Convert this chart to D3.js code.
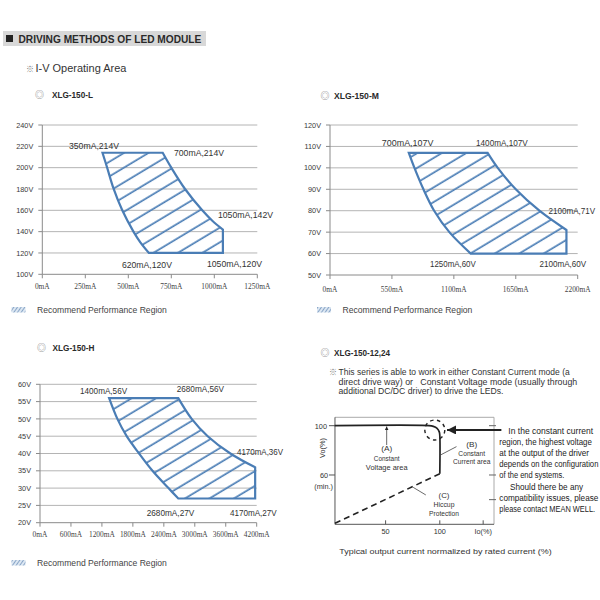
<!DOCTYPE html>
<html><head><meta charset="utf-8">
<script src="https://cdn.jsdelivr.net/npm/d3@7"></script>
<style>body{margin:0;background:#fff}svg{display:block}</style>
</head><body><svg id="c" width="600" height="600"></svg>
<script>
// ---------------- data ----------------
// XLG-150-L
const L_xTicks = [0, 250, 500, 750, 1000, 1250];
const L_yTicks = [100, 120, 140, 160, 180, 200, 220, 240];
const L_rightI = [700, 750, 830, 930, 990, 1050];
const L_rightV = [214, 200, 180, 160, 150, 142];
const L_leftI  = [620, 570, 530, 465, 415, 377, 350];
const L_leftV  = [120, 130, 140, 160, 180, 200, 214];
const L_cornerI = 1050, L_cornerV = 120;
const L_labels = ["350mA,214V", "700mA,214V", "1050mA,142V", "620mA,120V", "1050mA,120V"];
const L_labelI = [350, 700, 1050, 620, 1050];
const L_labelV = [214, 214, 142, 120, 120];

// XLG-150-M
const M_xTicks = [0, 550, 1100, 1650, 2200];
const M_yTicks = [50, 60, 70, 80, 90, 100, 110, 120];
const M_rightI = [1400, 1490, 1650, 1860, 2100];
const M_rightV = [107, 100, 90, 80, 71];
const M_leftI  = [1250, 1060, 925, 830, 750, 700];
const M_leftV  = [60, 70, 80, 90, 100, 107];
const M_cornerI = 2100, M_cornerV = 60;
const M_labels = ["700mA,107V", "1400mA,107V", "2100mA,71V", "1250mA,60V", "2100mA,60V"];
const M_labelI = [700, 1400, 2100, 1250, 2100];
const M_labelV = [107, 107, 71, 60, 60];

// XLG-150-H
const H_xTicks = [0, 600, 1200, 1800, 2400, 3000, 3600, 4200];
const H_yTicks = [20, 25, 30, 35, 40, 45, 50, 55, 60];
const H_rightI = [2680, 2940, 3250, 3690, 4170];
const H_rightV = [56, 50, 45, 40, 36];
const H_leftI  = [2680, 2490, 2180, 1920, 1680, 1500, 1340];
const H_leftV  = [27, 30, 35, 40, 45, 50, 56];
const H_cornerI = 4170, H_cornerV = 27;
const H_labels = ["1400mA,56V", "2680mA,56V", "4170mA,36V", "2680mA,27V", "4170mA,27V"];
const H_labelI = [1400, 2680, 4170, 2680, 4170];
const H_labelV = [56, 56, 36, 27, 27];

// XLG-150-12,24 schematic (Io %, Vo %)
const D_xTicks = [50, 100, 140];
const D_xTickLabels = ["50", "100", "Io(%)"];
const D_yTicks = [100, 60];
const D_rightTicks = [100, 60, 40];
const D_cvIo = [3, 90, 94, 97.5, 99.5, 100, 100];
const D_cvVo = [100, 100, 99.4, 97.8, 95, 92, 61];
const D_hiccupIo = [3.3, 100];
const D_hiccupVo = [20.8, 61];

// ---------------- layout helpers ----------------
const SANS = "'Liberation Sans', Arial, sans-serif";
const NARROW = "'Liberation Sans Narrow', 'Liberation Sans', Arial, sans-serif";
const SERIF = "'Liberation Serif', 'Times New Roman', serif";
const SYM = "'Noto Sans CJK SC', 'DejaVu Sans', sans-serif";
const BLUE = "#4a7db5";

const svg = d3.select("#c");
svg.append("rect").attr("width", 600).attr("height", 600).attr("fill", "#fff");

const defs = svg.append("defs");
const pat = defs.append("pattern").attr("id", "hatch").attr("patternUnits", "userSpaceOnUse")
  .attr("width", 30).attr("height", 12.6).attr("patternTransform", "rotate(-31)");
pat.append("line").attr("x1", 0).attr("x2", 30).attr("y1", 6).attr("y2", 6)
  .attr("stroke", BLUE).attr("stroke-width", 1.7);
const pat2 = defs.append("pattern").attr("id", "hatchS").attr("patternUnits", "userSpaceOnUse")
  .attr("width", 6).attr("height", 3).attr("patternTransform", "rotate(-55)");
pat2.append("rect").attr("width", 6).attr("height", 3).attr("fill", "#dce7f2");
pat2.append("line").attr("x1", 0).attr("x2", 6).attr("y1", 1.5).attr("y2", 1.5)
  .attr("stroke", "#8aa6c8").attr("stroke-width", 1);
function marker(id, w, h) {
  defs.append("marker").attr("id", id).attr("viewBox", `0 0 ${w} ${h}`)
    .attr("refX", w).attr("refY", h / 2).attr("markerWidth", w).attr("markerHeight", h)
    .attr("markerUnits", "userSpaceOnUse").attr("orient", "auto")
    .append("path").attr("d", `M0,0L${w},${h / 2}L0,${h}Z`).attr("fill", "#222");
}
marker("arrS", 4, 4);
marker("arrB", 9, 9);

// text helper: when a target width is given, the text is scaled horizontally
// (measured natural width -> target width) so its real box matches the reference.
function txt(x, y, s, o = {}) {
  const t = svg.append("text").attr("x", x).attr("y", y).text(s)
    .attr("font-family", o.family || SANS).attr("font-size", o.size || 9)
    .attr("fill", o.fill || "#333").attr("text-anchor", o.anchor || "start")
    .style("white-space", "pre");
  if (o.weight) t.attr("font-weight", o.weight);
  if (o.len) {
    const nat = t.node().getComputedTextLength();
    const k = nat > 0 ? o.len / nat : 1;
    t.attr("x", 0).attr("y", 0).attr("transform", `translate(${x},${y}) scale(${k},1)`);
  }
  if (o.rotate) t.attr("transform", `rotate(${o.rotate},${x},${y})`);
  return t;
}

// ---------------- header ----------------
svg.append("rect").attr("x", 3).attr("y", 31).attr("width", 203).attr("height", 15).attr("fill", "#d8d8d8");
svg.append("rect").attr("x", 6).attr("y", 35).attr("width", 7).attr("height", 7).attr("fill", "#222");
txt(18.5, 43, "DRIVING METHODS OF LED MODULE", { family: NARROW, weight: "bold", size: 11.5, len: 183, fill: "#2a2a2a" });
txt(30, 71.5, "※", { family: SYM, size: 8, fill: "#777", anchor: "middle" });
txt(35.5, 71.5, "I-V Operating Area", { size: 10.8, len: 91 });

function heading(xs, xt, y, s, len) {
  txt(xs, y, "◎", { family: SYM, size: 9, fill: "#777", anchor: "middle" });
  txt(xt, y, s, { weight: "bold", size: 8.6, len: len, fill: "#2a2a2a" });
}
heading(39.5, 52, 97.5, "XLG-150-L", 41);
heading(325, 334, 98.5, "XLG-150-M", 45);
heading(41.5, 52.5, 350.5, "XLG-150-H", 42);
heading(325, 334, 355.5, "XLG-150-12,24", 56);

function legend(x, y) {
  svg.append("rect").attr("x", x).attr("y", y - 3).attr("width", 14).attr("height", 5.5).attr("fill", "url(#hatchS)");
  txt(x + 25.5, y + 3.3, "Recommend Performance Region", { size: 9.2, len: 130, fill: "#444" });
}
legend(11.5, 310);
legend(317, 310);
legend(11.5, 563);

// ---------------- I-V charts ----------------
function ivChart(c) {
  const x = d3.scaleLinear().domain(c.xDom).range([c.x0, c.x1]);
  const y = d3.scaleLinear().domain(c.yDom).range([c.y0, c.y1]);
  const g = svg.append("g");
  g.selectAll(".grid").data(c.yTicks.slice(1)).join("line")
    .attr("x1", x(c.xDom[0])).attr("x2", x(c.xDom[1]))
    .attr("y1", d => y(d)).attr("y2", d => y(d))
    .attr("stroke", "#b4b4b4").attr("stroke-width", 1);
  g.append("line").attr("x1", x(c.xDom[0])).attr("x2", x(c.xDom[0]))
    .attr("y1", y(c.yDom[1])).attr("y2", y(c.yDom[0])).attr("stroke", "#8a8a8a");
  g.append("line").attr("x1", x(c.xDom[0])).attr("x2", x(c.xDom[1]))
    .attr("y1", y(c.yDom[0])).attr("y2", y(c.yDom[0])).attr("stroke", "#8a8a8a");
  g.selectAll(".yt").data(c.yTicks).join("line")
    .attr("x1", x(c.xDom[0]) - 4).attr("x2", x(c.xDom[0]))
    .attr("y1", d => y(d)).attr("y2", d => y(d)).attr("stroke", "#8a8a8a");
  g.selectAll(".xt").data(c.xTicks).join("line")
    .attr("x1", d => x(d)).attr("x2", d => x(d))
    .attr("y1", y(c.yDom[0])).attr("y2", y(c.yDom[0]) + 4).attr("stroke", "#8a8a8a");
  c.yTicks.forEach(v => txt(x(c.xDom[0]) - 9, y(v) + 2.6, v + "V", { size: 7.3, anchor: "end", fill: "#3a3a3a" }));
  c.xTicks.forEach(v => txt(x(v), c.xLabY, v + "mA", { family: SERIF, size: 7.4, anchor: "middle", fill: "#444" }));
  const lg = d3.line().x(d => x(d[0])).y(d => y(d[1])).curve(d3.curveCatmullRom.alpha(0.5));
  const right = c.rightI.map((v, i) => [v, c.rightV[i]]);
  const left = c.leftI.map((v, i) => [v, c.leftV[i]]);
  const d = lg(right) + "L" + x(c.cornerI) + "," + y(c.cornerV) + lg(left).replace(/^M/, "L") + "Z";
  g.append("path").attr("d", d).attr("fill", "url(#hatch)");
  g.append("path").attr("d", d).attr("fill", "none").attr("stroke", BLUE)
    .attr("stroke-width", 2.2).attr("stroke-linejoin", "miter");
  c.labels.forEach((s, i) => {
    txt(x(c.labelI[i]) + c.off[i][0], y(c.labelV[i]) + c.off[i][1], s,
      { size: 8.4, len: c.lens[i], fill: "#333" });
  });
}

ivChart({
  xDom: [0, 1250], yDom: [100, 240], x0: 42.3, x1: 257.3, y0: 274.3, y1: 125, xLabY: 288.5,
  xTicks: L_xTicks, yTicks: L_yTicks, rightI: L_rightI, rightV: L_rightV, leftI: L_leftI, leftV: L_leftV,
  cornerI: L_cornerI, cornerV: L_cornerV, labels: L_labels, labelI: L_labelI, labelV: L_labelV,
  off: [[-33.5, -4], [11.3, 3], [-5, -11.6], [-27, 15], [-16, 14.5]],
  lens: [50, 50, 55, 50, 55]
});
ivChart({
  xDom: [0, 2200], yDom: [50, 120], x0: 330, x1: 577.7, y0: 275, y1: 125, xLabY: 291.5,
  xTicks: M_xTicks, yTicks: M_yTicks, rightI: M_rightI, rightV: M_rightV, leftI: M_leftI, leftV: M_leftV,
  cornerI: M_cornerI, cornerV: M_cornerV, labels: M_labels, labelI: M_labelI, labelV: M_labelV,
  off: [[-27, -6.6], [-11.6, -7], [-18, -16], [-40.7, 13.4], [-27, 13.4]],
  lens: [51.6, 51.7, 46.7, 45.7, 46.7]
});
ivChart({
  xDom: [0, 4200], yDom: [20, 60], x0: 40, x1: 256.7, y0: 522.7, y1: 384.3, xLabY: 537,
  xTicks: H_xTicks, yTicks: H_yTicks, rightI: H_rightI, rightV: H_rightV, leftI: H_leftI, leftV: H_leftV,
  cornerI: H_cornerI, cornerV: H_cornerV, labels: H_labels, labelI: H_labelI, labelV: H_labelV,
  off: [[-32.2, -4.4], [-1.6, -5.8], [-18.2, -12.6], [-31.6, 17.2], [-25.2, 17.2]],
  lens: [47, 47.3, 46, 47.6, 46.7]
});

// ---------------- XLG-150-12,24 panel ----------------
txt(333, 375, "※", { family: SYM, size: 8, fill: "#777", anchor: "middle" });
txt(338.5, 375, "This series is able to work in either Constant Current mode (a", { size: 8.6, len: 231.5 });
txt(338.5, 384.5, "direct drive way) or   Constant Voltage mode (usually through", { size: 8.6, len: 239 });
txt(338.5, 394, "additional DC/DC driver) to drive the LEDs.", { size: 8.6, len: 165 });

const dx = d3.scaleLinear().domain([0, 150]).range([331.4, 494]);
const dy = d3.scaleLinear().domain([20, 106.8]).range([524.3, 417.3]);
const dg = svg.append("g");
dg.append("line").attr("x1", dx(3.3)).attr("x2", dx(150)).attr("y1", dy(106.8)).attr("y2", dy(106.8)).attr("stroke", "#aaa");
dg.append("line").attr("x1", dx(150)).attr("x2", dx(150)).attr("y1", dy(106.8)).attr("y2", dy(20)).attr("stroke", "#aaa");
dg.append("line").attr("x1", dx(3.3)).attr("x2", dx(3.3)).attr("y1", dy(106.8)).attr("y2", dy(20)).attr("stroke", "#555");
dg.append("line").attr("x1", dx(3.3)).attr("x2", dx(150)).attr("y1", dy(20)).attr("y2", dy(20)).attr("stroke", "#555");
D_yTicks.forEach(v => dg.append("line").attr("x1", dx(3.3) - 6).attr("x2", dx(3.3)).attr("y1", dy(v)).attr("y2", dy(v)).attr("stroke", "#555"));
D_rightTicks.forEach(v => dg.append("line").attr("x1", dx(150) - 5).attr("x2", dx(150) + 2).attr("y1", dy(v)).attr("y2", dy(v)).attr("stroke", "#666"));
D_xTicks.forEach(v => dg.append("line").attr("x1", dx(v)).attr("x2", dx(v)).attr("y1", dy(20)).attr("y2", dy(20) - 4).attr("stroke", "#555"));
D_xTicks.forEach((v, i) => txt(dx(v), 533.5, D_xTickLabels[i], { size: 7.3, anchor: "middle", fill: "#333" }));
txt(327, 428.5, "100", { size: 7.3, anchor: "end" });
txt(328, 478, "60", { size: 7.3, anchor: "end" });
txt(333, 488.5, "(min.)", { size: 7.3, anchor: "end" });
txt(325, 448, "Vo(%)", { size: 7.3, anchor: "middle", rotate: -90 });
txt(339.3, 553.5, "Typical output current normalized by rated current (%)", { size: 7.4, len: 212, fill: "#333" });

const dl = d3.line().x(d => dx(d[0])).y(d => dy(d[1])).curve(d3.curveCatmullRom.alpha(0.5));
dg.append("path").attr("d", dl(D_cvIo.map((v, i) => [v, D_cvVo[i]])))
  .attr("fill", "none").attr("stroke", "#222").attr("stroke-width", 1.7);
dg.append("path").attr("d", d3.line().x(d => dx(d[0])).y(d => dy(d[1]))(D_hiccupIo.map((v, i) => [v, D_hiccupVo[i]])))
  .attr("fill", "none").attr("stroke", "#222").attr("stroke-width", 1.6).attr("stroke-dasharray", "6,4");
dg.append("circle").attr("cx", dx(95.4)).attr("cy", dy(96.5)).attr("r", 10)
  .attr("fill", "none").attr("stroke", "#222").attr("stroke-width", 1.4).attr("stroke-dasharray", "3.5,3.5");
dg.append("line").attr("x1", dx(51)).attr("x2", dx(51)).attr("y1", dy(84.3)).attr("y2", dy(100) + 0.8)
  .attr("stroke", "#444").attr("stroke-width", 0.8).attr("marker-end", "url(#arrS)");
dg.append("line").attr("x1", dx(156.8)).attr("x2", dx(106.7)).attr("y1", dy(96.5)).attr("y2", dy(96.5))
  .attr("stroke", "#222").attr("stroke-width", 2).attr("marker-end", "url(#arrB)");
dg.append("line").attr("x1", dx(115.4)).attr("x2", dx(100.6)).attr("y1", dy(83)).attr("y2", dy(76.2))
  .attr("stroke", "#444").attr("stroke-width", 0.8);
dg.append("line").attr("x1", dx(75.4)).attr("x2", dx(87.1)).attr("y1", dy(50)).attr("y2", dy(43.8))
  .attr("stroke", "#444").attr("stroke-width", 0.8);
[["(A)", 451, 11], ["Constant", 460.5, 25.7], ["Voltage area", 470, 41.7]].forEach(a =>
  txt(386.7, a[1], a[0], { size: 7.3, anchor: "middle", len: a[2] }));
[["(B)", 447, 11], ["Constant", 455.5, 26.7], ["Current area", 464, 37.3]].forEach(a =>
  txt(471.7, a[1], a[0], { size: 7.3, anchor: "middle", len: a[2] }));
[["(C)", 497.5, 11], ["Hiccup", 506.5, 21], ["Protection", 515.5, 30]].forEach(a =>
  txt(444, a[1], a[0], { size: 7.3, anchor: "middle", len: a[2] }));

const notes = [
  ["In the constant current", 508.3, 84.7],
  ["region, the highest voltage", 499.3, 92.4],
  ["at the output of the driver", 499.3, 89.7],
  ["depends on the configuration", 499.3, 99],
  ["of the end systems.", 499.3, 65],
  ["Should there be any", 510, 73],
  ["compatibility issues, please", 499.3, 99],
  ["please contact MEAN WELL.", 499.3, 95.7]
];
notes.forEach((n, i) => txt(n[1], 434 + i * 11.1, n[0], { size: 9.4, len: n[2], fill: "#222" }));
</script></body></html>
